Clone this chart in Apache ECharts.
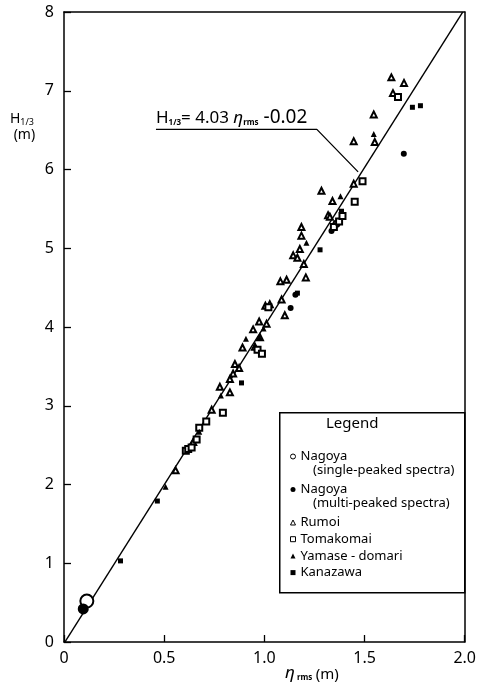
<!DOCTYPE html>
<html>
<head>
<meta charset="utf-8">
<script src="https://cdn.jsdelivr.net/npm/echarts@6/dist/echarts.min.js"></script>
<style>
html, body { margin: 0; padding: 0; background: #fff; }
#chart { width: 479px; height: 686px; }
</style>
</head>
<body>
<div id="chart"></div>
<script>
// values: [eta_rms (m), H1/3 (m)]
const nagoyaSingle = [[0.114, 0.52], [1.36, 5.31]]
const nagoyaMulti = [[0.096, 0.42], [1.131, 4.24], [1.155, 4.41], [1.343, 5.25], [1.335, 5.22], [1.696, 6.20]]
const rumoi = [
  [0.557, 2.18], [0.645, 2.54], [0.737, 2.95], [0.828, 3.17], [0.778, 3.24], [0.828, 3.34],
  [0.844, 3.41], [0.853, 3.53], [0.874, 3.48], [0.891, 3.74], [0.953, 3.75], [0.944, 3.97],
  [0.974, 4.07], [1.011, 4.04], [0.978, 3.87], [1.005, 4.27], [1.027, 4.29], [1.086, 4.35],
  [1.102, 4.15], [1.08, 4.58], [1.111, 4.60], [1.207, 4.63], [1.197, 4.80], [1.144, 4.91],
  [1.165, 4.88], [1.177, 4.99], [1.185, 5.16], [1.185, 5.27], [1.285, 5.73], [1.318, 5.42],
  [1.327, 5.40], [1.34, 5.60], [1.446, 5.82], [1.446, 6.36], [1.551, 6.35], [1.546, 6.70],
  [1.634, 7.17], [1.697, 7.10], [1.642, 6.97]
]
const tomakomai = [
  [0.608, 2.43], [0.62, 2.45], [0.637, 2.47], [0.662, 2.57], [0.675, 2.72], [0.71, 2.80],
  [0.793, 2.91], [0.966, 3.71], [0.988, 3.66], [1.02, 4.25], [1.347, 5.27], [1.373, 5.34],
  [1.39, 5.41], [1.451, 5.59], [1.49, 5.85], [1.667, 6.92]
]
const yamase = [[0.507, 1.97], [0.675, 2.67], [0.783, 3.13], [0.908, 3.85], [0.975, 3.87], [0.996, 3.98], [1.21, 5.07], [1.38, 5.66], [1.546, 6.45]]
const kanazawa = [[0.282, 1.03], [0.466, 1.79], [0.886, 3.29], [1.165, 4.43], [1.278, 4.98], [1.385, 5.47], [1.739, 6.79], [1.779, 6.81]]

// fitted line H1/3 = 4.03 eta - 0.02
const fitSlope = 4.03
const fitIntercept = -0.02
const fitRange = [0.005, 1.990]
const leaderLine = [[0.459, 6.51], [1.262, 6.51], [1.468, 5.97]]

const xTicks = [0, 0.5, 1.0, 1.5, 2.0]
const yTicks = [0, 1, 2, 3, 4, 5, 6, 7, 8]

const font = 'Noto Sans'
const chart = echarts.init(document.getElementById('chart'))

const fitLine = fitRange.map(x => [x, fitSlope * x + fitIntercept])

const scatter = (name, data, symbol, size) => ({
  name,
  type: 'scatter',
  data,
  symbol,
  symbolSize: size,
  itemStyle: { color: '#000', borderColor: '#000', borderWidth: symbol.startsWith('empty') ? 1 : 0, opacity: 1 },
  z: 3
})

const axisCommon = {
  type: 'value',
  axisLine: { show: true, onZero: false, lineStyle: { color: '#000', width: 1.5 } },
  splitLine: { show: false }
}

const legendText = { color: '#000', fontSize: 13, fontFamily: font, lineHeight: 15 }
// hollow legend keys drawn thin and small like the printed key
const legendItem = (name, icon) => icon.startsWith('empty')
  ? { name, icon: icon.replace('empty', '').toLowerCase(), itemStyle: { color: '#fff', borderColor: '#000', borderWidth: 1 } }
  : { name, icon, itemStyle: { color: '#000', borderWidth: 0 } }

chart.setOption({
  animation: false,
  backgroundColor: '#fff',
  grid: { left: 64, right: 14, top: 12, bottom: 44 },
  xAxis: [
    {
      ...axisCommon,
      min: xTicks[0], max: xTicks[xTicks.length - 1], interval: 0.5,
      axisTick: { inside: true, length: 7, lineStyle: { color: '#000', width: 1.3 } },
      axisLabel: { color: '#000', fontSize: 16, fontFamily: font, margin: 8, formatter: v => v === 0 ? '0' : v.toFixed(1) }
    },
    { ...axisCommon, position: 'top', min: 0, max: 2, axisTick: { show: false }, axisLabel: { show: false } }
  ],
  yAxis: [
    {
      ...axisCommon,
      min: yTicks[0], max: yTicks[yTicks.length - 1], interval: 1,
      axisTick: { inside: true, length: 7, lineStyle: { color: '#000', width: 1.3 } },
      axisLabel: { color: '#000', fontSize: 16, fontFamily: font, margin: 10 }
    },
    { ...axisCommon, position: 'right', min: 0, max: 8, axisTick: { show: false }, axisLabel: { show: false } }
  ],
  legend: [
    {
      orient: 'vertical', left: 285, top: 444, itemGap: 18,
      itemWidth: 5, itemHeight: 5, itemTextGap: 9,
      data: [
        legendItem('Nagoya (single-peaked spectra)', 'emptyCircle'),
        legendItem('Nagoya (multi-peaked spectra)', 'circle')
      ],
      formatter: n => n.split(' (')[0],
      textStyle: legendText,
      z: 10
    },
    {
      orient: 'vertical', left: 285, top: 510, itemGap: 1.7,
      itemWidth: 5, itemHeight: 5, itemTextGap: 9,
      data: [
        legendItem('Rumoi', 'emptyTriangle'),
        legendItem('Tomakomai', 'emptyRect'),
        legendItem('Yamase-domari', 'triangle'),
        legendItem('Kanazawa', 'rect')
      ],
      formatter: n => n === 'Yamase-domari' ? 'Yamase - domari' : n,
      textStyle: legendText,
      z: 10
    }
  ],
  graphic: [
    { type: 'rect', left: 279, top: 412, z: 8, shape: { width: 185, height: 180 }, style: { fill: '#fff', stroke: '#000', lineWidth: 1.5 } },
    { type: 'text', left: 326, top: 416, z: 9, style: { text: 'Legend', font: '15px "Noto Sans"', fill: '#000' } },
    { type: 'text', left: 313, top: 464, z: 9, style: { text: '(single-peaked spectra)', font: '13px "Noto Sans"', fill: '#000' } },
    { type: 'text', left: 313, top: 497, z: 9, style: { text: '(multi-peaked spectra)', font: '13px "Noto Sans"', fill: '#000' } },
    {
      type: 'text', left: 10, top: 112, z: 9,
      style: {
        text: '{a|H}{s|1/3}\n{a| (m)}',
        fill: '#000',
        rich: {
          a: { fontSize: 14, fontFamily: font, color: '#000', lineHeight: 16 },
          s: { fontSize: 9, fontFamily: font, color: '#000', verticalAlign: 'bottom', lineHeight: 16 }
        }
      }
    },
    {
      type: 'text', left: 285, top: 665, z: 9,
      style: {
        text: '{e|η}{s| rms} {a|(m)}',
        fill: '#000',
        rich: {
          e: { fontSize: 17, fontFamily: font, fontStyle: 'italic', color: '#000', lineHeight: 18, verticalAlign: 'bottom' },
          a: { fontSize: 15, fontFamily: font, color: '#000', lineHeight: 18, verticalAlign: 'bottom' },
          s: { fontSize: 8, fontFamily: font, color: '#000', fontWeight: 'bold', lineHeight: 18, verticalAlign: 'bottom' }
        }
      }
    },
    {
      type: 'text', left: 156, top: 108, z: 9,
      style: {
        text: '{a|H}{s|1/3}{a|= 4.03 }{e|η}{s|rms}{b| -0.02}',
        fill: '#000',
        rich: {
          a: { fontSize: 17, fontFamily: font, color: '#000', lineHeight: 20, verticalAlign: 'bottom' },
          b: { fontSize: 19, fontFamily: font, color: '#000', lineHeight: 20, verticalAlign: 'bottom' },
          e: { fontSize: 17, fontFamily: font, fontStyle: 'italic', color: '#000', lineHeight: 20, verticalAlign: 'bottom' },
          s: { fontSize: 8, fontFamily: font, color: '#000', fontWeight: 'bold', lineHeight: 20, verticalAlign: 'bottom' }
        }
      }
    }
  ],
  series: [
    {
      type: 'line', data: fitLine, symbol: 'none', silent: true,
      lineStyle: { color: '#000', width: 1.4 }, z: 2
    },
    {
      type: 'line', data: leaderLine, symbol: 'none', silent: true,
      lineStyle: { color: '#000', width: 1.3 }, z: 2
    },
    scatter('Nagoya (single-peaked spectra)', nagoyaSingle, 'emptyCircle', (v, p) => p.dataIndex === 0 ? 13 : 6),
    scatter('Nagoya (multi-peaked spectra)', nagoyaMulti, 'circle', (v, p) => p.dataIndex === 0 ? 11 : 6),
    scatter('Rumoi', rumoi, 'emptyTriangle', 6),
    scatter('Tomakomai', tomakomai, 'emptyRect', 6),
    scatter('Yamase-domari', yamase, 'triangle', 6),
    scatter('Kanazawa', kanazawa, 'rect', 5)
  ]
})
</script>
</body>
</html>
